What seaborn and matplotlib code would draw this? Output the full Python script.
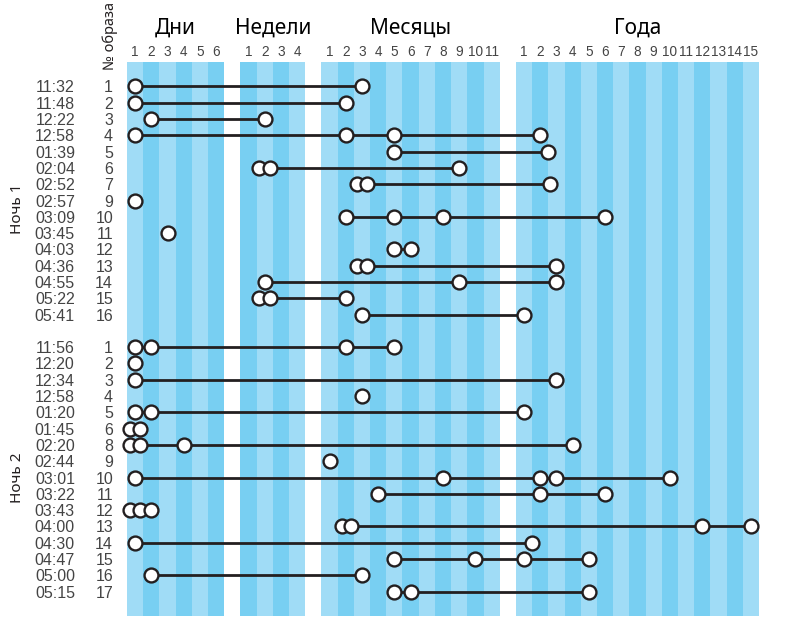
import matplotlib
matplotlib.use("Agg")
import matplotlib.pyplot as plt
import seaborn as sns
import pandas as pd

# ---------------- data ----------------
sections = ["Дни", "Недели", "Месяцы", "Года"]
section_lengths = [6, 4, 11, 15]

night1_times = ["11:32", "11:48", "12:22", "12:58", "01:39", "02:04", "02:52", "02:57",
                "03:09", "03:45", "04:03", "04:36", "04:55", "05:22", "05:41"]
night1_ids = [1, 2, 3, 4, 5, 6, 7, 9, 10, 11, 12, 13, 14, 15, 16]
# each event: (section, value)
night1_events = [
    [("Дни", 1), ("Месяцы", 3)],
    [("Дни", 1), ("Месяцы", 2)],
    [("Дни", 2), ("Недели", 2)],
    [("Дни", 1), ("Месяцы", 2), ("Месяцы", 5), ("Года", 2)],
    [("Месяцы", 5), ("Года", 2.5)],
    [("Недели", 1.65), ("Недели", 2.35), ("Месяцы", 9)],
    [("Месяцы", 2.7), ("Месяцы", 3.3), ("Года", 2.6)],
    [("Дни", 1)],
    [("Месяцы", 2), ("Месяцы", 5), ("Месяцы", 8), ("Года", 6)],
    [("Дни", 3)],
    [("Месяцы", 5), ("Месяцы", 6)],
    [("Месяцы", 2.7), ("Месяцы", 3.3), ("Года", 3)],
    [("Недели", 2), ("Месяцы", 9), ("Года", 3)],
    [("Недели", 1.65), ("Недели", 2.35), ("Месяцы", 2)],
    [("Месяцы", 3), ("Года", 1)],
]

night2_times = ["11:56", "12:20", "12:34", "12:58", "01:20", "01:45", "02:20", "02:44",
                "03:01", "03:22", "03:43", "04:00", "04:30", "04:47", "05:00", "05:15"]
night2_ids = [1, 2, 3, 4, 5, 6, 8, 9, 10, 11, 12, 13, 14, 15, 16, 17]
night2_events = [
    [("Дни", 1), ("Дни", 2), ("Месяцы", 2), ("Месяцы", 5)],
    [("Дни", 1)],
    [("Дни", 1), ("Года", 3)],
    [("Месяцы", 3)],
    [("Дни", 1), ("Дни", 2), ("Года", 1)],
    [("Дни", 0.7), ("Дни", 1.3)],
    [("Дни", 0.7), ("Дни", 1.3), ("Дни", 4), ("Года", 4)],
    [("Месяцы", 1)],
    [("Дни", 1), ("Месяцы", 8), ("Года", 2), ("Года", 3), ("Года", 10)],
    [("Месяцы", 4), ("Года", 2), ("Года", 6)],
    [("Дни", 0.7), ("Дни", 1.3), ("Дни", 2)],
    [("Месяцы", 1.75), ("Месяцы", 2.3), ("Года", 12), ("Года", 15)],
    [("Дни", 1), ("Года", 1.5)],
    [("Месяцы", 5), ("Месяцы", 10), ("Года", 1), ("Года", 5)],
    [("Дни", 2), ("Месяцы", 3)],
    [("Месяцы", 5), ("Месяцы", 6), ("Года", 5)],
]
night_labels = ["Ночь 1", "Ночь 2"]

# ---------------- scales ----------------
offsets = {}
pos = 0
for name, n in zip(sections, section_lengths):
    offsets[name] = pos
    pos += n + 1
x_total = pos - 1


def xpos(sec, val):
    return offsets[sec] + val - 0.5


rows1 = list(range(len(night1_ids)))
rows2 = [len(night1_ids) + 1 + i for i in range(len(night2_ids))]

records = []
for rows, events in ((rows1, night1_events), (rows2, night2_events)):
    for r, evs in zip(rows, events):
        for sec, val in evs:
            records.append({"row": r, "x": xpos(sec, val)})
df = pd.DataFrame(records).sort_values(["row", "x"]).reset_index(drop=True)

# ---------------- style ----------------
sns.set_style("white")
narrow = ["Liberation Sans", "DejaVu Sans"]
regular = ["Noto Sans", "DejaVu Sans"]
plt.rcParams["font.family"] = regular

light = "#a0dcf6"
dark = "#78cff2"
ink = "#231f20"
gray = "#444444"

fig = plt.figure(figsize=(8, 6.19), dpi=100)
W, H = 800, 619
x0_px, x1_px, y0_px, y1_px = 127, 759, 62, 616
ax = fig.add_axes([x0_px / W, 1 - y1_px / H, (x1_px - x0_px) / W, (y1_px - y0_px) / H])

# stripes
for name, n in zip(sections, section_lengths):
    for i in range(n):
        g = offsets[name] + i
        ax.axvspan(g, g + 1, color=light if g % 2 == 0 else dark, lw=0, zorder=0)

# lines connecting events within each row
sns.lineplot(data=df, x="x", y="row", units="row", estimator=None, sort=True,
             color=ink, lw=2.0, ax=ax, legend=False, zorder=2)
# circles
sns.scatterplot(data=df, x="x", y="row", s=100, color="white", edgecolor=ink,
                linewidth=1.7, ax=ax, legend=False, zorder=3)
for coll in ax.collections:
    coll.set_clip_on(False)

ax.set_xlim(0, x_total)
n_rows = rows2[-1]
ax.set_ylim(n_rows + 1.5, -1.5)
for s in ax.spines.values():
    s.set_visible(False)

# top tick labels
xt, xl = [], []
for name, n in zip(sections, section_lengths):
    for v in range(1, n + 1):
        xt.append(xpos(name, v))
        xl.append(str(v))
ax.set_xticks(xt)
ax.set_xticklabels(xl, fontfamily=narrow, fontsize=9.8, color=gray)
ax.xaxis.set_ticks_position("top")
ax.tick_params(axis="x", length=0, pad=2.5)
ax.set_xlabel("")

# y tick labels: image numbers
ax.set_yticks(rows1 + rows2)
ax.set_yticklabels([str(i) for i in night1_ids + night2_ids],
                   fontfamily=narrow, fontsize=11.5, color=gray)
ax.tick_params(axis="y", length=0, pad=10)
ax.set_ylabel("")

# times
for rows, times in ((rows1, night1_times), (rows2, night2_times)):
    for r, t in zip(rows, times):
        ax.text(-3.21, r, t, ha="right", va="center_baseline", fontfamily=narrow,
                fontsize=11.5, color=gray, clip_on=False)

# night labels
for rows, lab in ((rows1, night_labels[0]), (rows2, night_labels[1])):
    ax.text(-6.73, (rows[0] + rows[-1]) / 2 + 0.5, lab, rotation=90, ha="center",
            va="center", fontsize=11, color=ink, clip_on=False)

# column header
ax.text(-1.05, -1.0, "№ образа", rotation=90, ha="center", va="bottom",
        fontsize=10.5, color=ink, clip_on=False)

# section headers
for name, n in zip(sections, section_lengths):
    ax.text(offsets[name] + n / 2, -3.55, name, ha="center", va="center",
            fontsize=15, color="black", clip_on=False)

fig.savefig("out.png", dpi=100)
